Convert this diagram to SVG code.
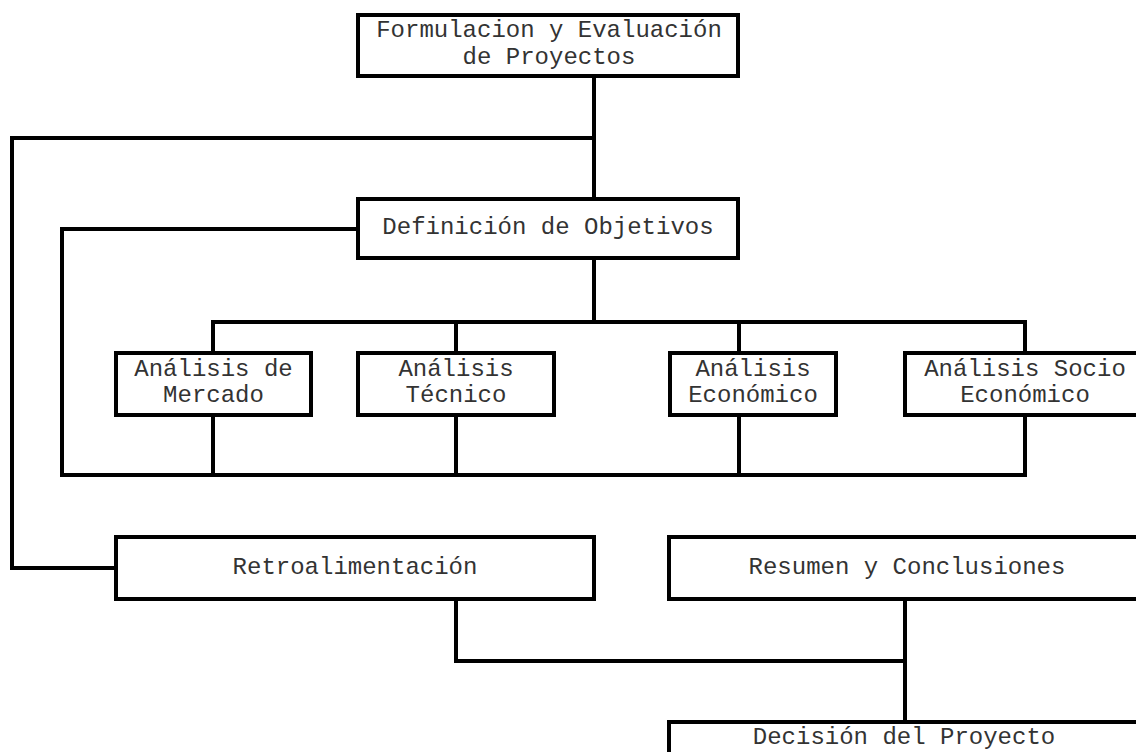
<svg xmlns="http://www.w3.org/2000/svg" width="1136" height="752" viewBox="0 0 1136 752">
<style>
.box{fill:#fff;stroke:#000;stroke-width:4}
.ln{fill:none;stroke:#000;stroke-width:4;stroke-linejoin:miter;stroke-linecap:square}
text{font-family:"Courier New","Liberation Mono",monospace;font-size:24px;fill:#333;text-anchor:middle}
</style>
<rect width="1136" height="752" fill="#fff"/>
<g id="connectors">
<polyline class="ln" points="594,76 594,199"/>
<polyline class="ln" points="594,138 12,138 12,568 116,568"/>
<polyline class="ln" points="358,229 62,229 62,475 1025,475"/>
<polyline class="ln" points="594,258 594,322"/>
<polyline class="ln" points="213,353 213,322 1025,322 1025,353"/>
<polyline class="ln" points="456,322 456,353"/>
<polyline class="ln" points="739,322 739,353"/>
<polyline class="ln" points="213,415 213,475"/>
<polyline class="ln" points="456,415 456,475"/>
<polyline class="ln" points="739,415 739,475"/>
<polyline class="ln" points="1025,415 1025,475"/>
<polyline class="ln" points="456,599 456,661 905,661"/>
<polyline class="ln" points="905,599 905,722"/>
</g>
<g id="n-formulacion">
<rect class="box" x="358" y="15" width="380" height="61" stroke-width="5"/>
<text x="549" y="37">Formulacion y Evaluación</text>
<text x="549" y="64">de Proyectos</text>
</g>
<g id="n-definicion">
<rect class="box" x="358" y="199" width="380" height="59" stroke-width="5"/>
<text x="548" y="234">Definición de Objetivos</text>
</g>
<g id="n-mercado">
<rect class="box" x="116" y="353" width="195" height="62"/>
<text x="213.5" y="376">Análisis de</text>
<text x="213.5" y="402">Mercado</text>
</g>
<g id="n-tecnico">
<rect class="box" x="358" y="353" width="196" height="62"/>
<text x="456" y="376">Análisis</text>
<text x="456" y="402">Técnico</text>
</g>
<g id="n-economico">
<rect class="box" x="670" y="353" width="166" height="62"/>
<text x="753" y="376">Análisis</text>
<text x="753" y="402">Económico</text>
</g>
<g id="n-socio">
<rect class="box" x="905" y="353" width="240" height="62"/>
<text x="1025" y="376">Análisis Socio</text>
<text x="1025" y="402">Económico</text>
</g>
<g id="n-retro">
<rect class="box" x="116" y="537" width="478" height="62"/>
<text x="355" y="574">Retroalimentación</text>
</g>
<g id="n-resumen">
<rect class="box" x="669" y="537" width="476" height="62"/>
<text x="907" y="574">Resumen y Conclusiones</text>
</g>
<g id="n-decision">
<rect class="box" x="669" y="722" width="476" height="50"/>
<text x="904" y="744">Decisión del Proyecto</text>
</g>
</svg>
